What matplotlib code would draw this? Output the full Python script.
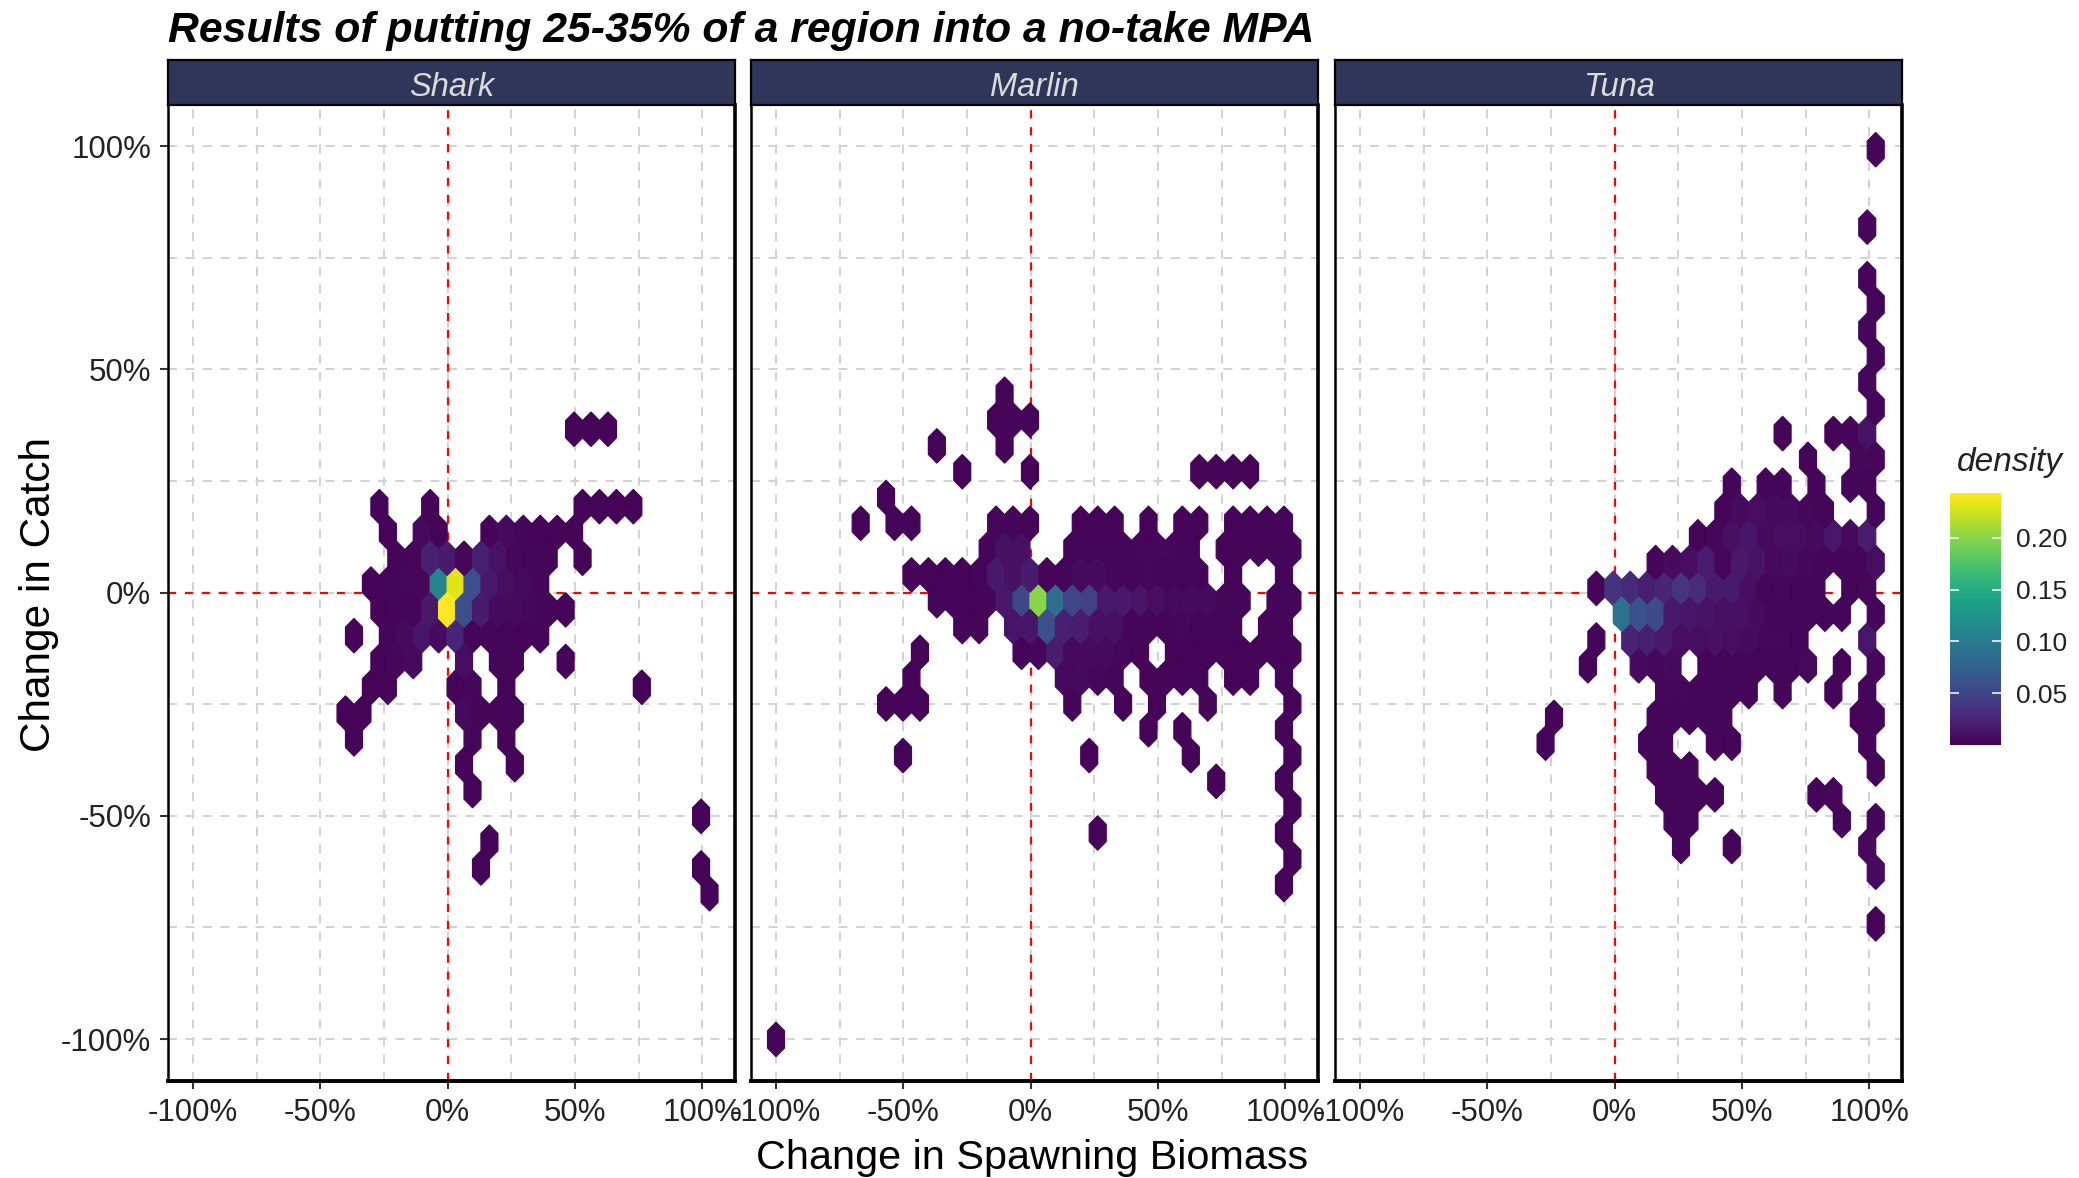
import matplotlib
matplotlib.use("Agg")
import matplotlib.pyplot as plt
import numpy as np

plt.rcParams['font.family'] = ['Liberation Sans', 'DejaVu Sans']

panel_names = ["Shark", "Marlin", "Tuna"]
tick_values = [-100, -50, 0, 50, 100]
tick_labels = ["-100%", "-50%", "0%", "50%", "100%"]
minor_values = [-75, -25, 25, 75]
legend_ticks = [0.05, 0.10, 0.15, 0.20]
legend_labels = ["0.05", "0.10", "0.15", "0.20"]
dens_min = 0.0003
dens_max = 0.243

# hexagon rows: row y, then x and density of each cell
shark_y = [36.6, 19.2, 13.5, 7.7, 1.9, -3.9, -9.7, -15.4, -21.2, -27.0, -32.8, -38.6, -44.3, -50.1, -55.9, -61.7, -67.5]
shark_x = [
    [49.7, 56.4, 63.0],
    [-26.8, -6.9, 53.0, 59.7, 66.3, 73.0],
    [-23.5, -10.2, -3.5, 16.5, 23.1, 29.8, 36.4, 43.1, 49.7],
    [-20.2, -13.5, -6.9, -0.2, 6.5, 13.1, 19.8, 26.4, 33.1, 39.7, 53.0],
    [-30.1, -23.5, -16.8, -10.2, -3.5, 3.2, 9.8, 16.5, 23.1, 29.8, 36.4],
    [-26.8, -20.2, -13.5, -6.9, -0.2, 6.5, 13.1, 19.8, 26.4, 33.1, 39.7, 46.4],
    [-36.8, -23.5, -16.8, -10.2, -3.5, 3.2, 9.8, 16.5, 23.1, 29.8, 36.4],
    [-26.8, -20.2, -13.5, 6.5, 19.8, 26.4, 46.4],
    [-30.1, -23.5, 3.2, 9.8, 23.1, 76.3],
    [-40.1, -33.5, 6.5, 13.1, 19.8, 26.4],
    [-36.8, 9.8, 23.1],
    [6.5, 26.4],
    [9.8],
    [99.6],
    [16.5],
    [13.1, 99.6],
    [102.9],
]
shark_d = [
    [.003, .003, .003],
    [.003, .003, .003, .003, .003, .003],
    [.003, .006, .004, .003, .007, .004, .003, .003, .003],
    [.004, .005, .022, .018, .005, .022, .012, .005, .004, .004, .003],
    [.003, .004, .005, .005, .110, .232, .058, .016, .008, .006, .004],
    [.003, .004, .004, .016, .243, .058, .018, .007, .006, .005, .004, .003],
    [.003, .004, .007, .014, .007, .026, .004, .004, .004, .003, .004],
    [.004, .005, .006, .008, .004, .004, .003],
    [.003, .003, .003, .005, .003, .003],
    [.003, .003, .007, .003, .003, .003],
    [.003, .005, .003],
    [.003, .003],
    [.003],
    [.003],
    [.003],
    [.003, .003],
    [.003],
]

marlin_y = [44.4, 38.6, 32.8, 27.1, 21.3, 15.5, 9.7, 4.0, -1.8, -7.6, -13.4, -19.2, -25.0, -30.7, -36.5, -42.3, -48.1, -53.9, -59.6, -65.4, -100.1]
marlin_x = [
    [-10.2],
    [-13.4, -6.8, -0.1],
    [-36.8, -10.2],
    [-26.7, -0.1, 66.4, 73.1, 79.7, 86.4],
    [-56.7],
    [-66.6, -53.3, -46.7, -13.4, -6.8, -0.1, 19.9, 26.5, 33.2, 46.5, 59.8, 66.4, 79.7, 86.4, 93.0, 99.7],
    [-16.9, -10.2, -3.6, 16.4, 23.1, 29.7, 36.4, 43.0, 49.7, 56.3, 63.0, 76.3, 82.9, 89.6, 96.2, 102.9],
    [-46.7, -40.0, -33.4, -26.7, -20.1, -13.4, -6.8, -0.1, 6.6, 13.2, 19.9, 26.5, 33.2, 39.8, 46.5, 53.1, 59.8, 66.4, 79.7, 99.7],
    [-36.8, -30.2, -23.5, -16.9, -10.2, -3.6, 3.1, 9.8, 16.4, 23.1, 29.7, 36.4, 43.0, 49.7, 56.3, 63.0, 69.6, 76.3, 82.9, 96.2, 102.9],
    [-26.7, -20.1, -6.8, -0.1, 6.6, 13.2, 19.9, 26.5, 33.2, 39.8, 46.5, 53.1, 59.8, 66.4, 73.1, 79.7, 93.0, 99.7],
    [-43.5, -3.6, 3.1, 9.8, 16.4, 23.1, 29.7, 36.4, 43.0, 56.3, 63.0, 69.6, 76.3, 82.9, 89.6, 96.2, 102.9],
    [-46.7, 13.2, 19.9, 26.5, 33.2, 46.5, 53.1, 59.8, 66.4, 79.7, 86.4, 99.7],
    [-56.7, -50.1, -43.5, 16.4, 36.4, 49.7, 69.6, 102.9],
    [46.5, 59.8, 99.7],
    [-50.1, 23.1, 63.0, 102.9],
    [73.1, 99.7],
    [102.9],
    [26.5, 99.7],
    [102.9],
    [99.7],
    [-99.9],
]
marlin_d = [
    [.003],
    [.003, .003, .003],
    [.003, .003],
    [.003, .003, .003, .003, .003, .003],
    [.003],
    [.003, .003, .003, .005, .004, .003, .003, .003, .003, .003, .003, .003, .003, .003, .003, .004],
    [.004, .011, .010, .004, .004, .004, .004, .005, .005, .005, .004, .003, .003, .003, .004, .004],
    [.003, .003, .003, .003, .004, .016, .011, .018, .004, .004, .007, .007, .004, .004, .005, .004, .004, .004, .003, .004],
    [.004, .003, .003, .004, .016, .052, .200, .085, .050, .046, .016, .016, .013, .009, .006, .007, .007, .004, .004, .004, .004],
    [.004, .004, .013, .014, .060, .022, .020, .010, .010, .004, .004, .004, .005, .004, .004, .004, .004, .004],
    [.003, .004, .005, .020, .006, .007, .006, .005, .004, .003, .003, .003, .003, .003, .003, .003, .003],
    [.003, .006, .007, .005, .004, .003, .003, .004, .004, .003, .003, .004],
    [.003, .003, .003, .004, .003, .003, .004, .003],
    [.003, .003, .004],
    [.004, .003, .003, .003],
    [.003, .004],
    [.003],
    [.003, .003],
    [.003],
    [.003],
    [.003],
]

tuna_y = [99.2, 81.9, 70.3, 64.5, 58.7, 52.9, 47.2, 41.4, 35.6, 29.8, 24.0, 18.3, 12.5, 6.7, 0.9, -4.9, -10.6, -16.4, -22.2, -28.0, -33.8, -39.5, -45.3, -51.1, -56.9, -62.7, -74.2]
tuna_x = [
    [102.7],
    [99.3],
    [99.3],
    [102.7],
    [99.3],
    [102.7],
    [99.3],
    [102.7],
    [66.0, 86.0, 92.6, 99.3],
    [76.1, 96.0, 102.7],
    [46.1, 59.4, 66.0, 79.3, 92.6, 99.3],
    [42.8, 49.5, 56.1, 62.8, 69.4, 76.1, 82.7, 102.7],
    [32.8, 39.4, 46.1, 52.7, 59.4, 66.0, 72.7, 79.3, 86.0, 92.6, 99.3],
    [16.2, 22.9, 29.5, 36.2, 42.8, 49.5, 56.1, 62.8, 69.4, 76.1, 82.7, 89.4, 96.0, 102.7],
    [-7.2, -0.5, 6.2, 12.8, 19.5, 26.1, 32.8, 39.4, 46.1, 52.7, 59.4, 66.0, 72.7, 79.3, 92.6, 99.3],
    [2.9, 9.6, 16.2, 22.9, 29.5, 36.2, 42.8, 49.5, 56.1, 62.8, 69.4, 76.1, 82.7, 89.4, 102.7],
    [-7.2, 6.2, 12.8, 19.5, 26.1, 32.8, 39.4, 46.1, 52.7, 59.4, 66.0, 72.7, 99.3],
    [-10.4, 9.6, 16.2, 22.9, 36.2, 42.8, 49.5, 56.1, 62.8, 69.4, 76.1, 89.4, 102.7],
    [19.5, 26.1, 32.8, 39.4, 46.1, 52.7, 66.0, 86.0, 99.3],
    [-23.7, 16.2, 22.9, 29.5, 36.2, 42.8, 96.0, 102.7],
    [-27.1, 12.8, 19.5, 39.4, 46.1, 99.3],
    [16.2, 22.9, 29.5, 102.7],
    [19.5, 26.1, 32.8, 39.4, 79.3, 86.0],
    [22.9, 29.5, 89.4, 102.7],
    [26.1, 46.1, 99.3],
    [102.7],
    [102.7],
]
tuna_d = [
    [.004],
    [.005],
    [.003],
    [.004],
    [.005],
    [.004],
    [.005],
    [.004],
    [.003, .003, .004, .012],
    [.004, .005, .005],
    [.004, .004, .004, .004, .004, .004],
    [.004, .007, .008, .007, .007, .005, .004, .004],
    [.004, .005, .010, .014, .007, .008, .008, .007, .015, .006, .020],
    [.004, .007, .009, .020, .005, .016, .012, .006, .007, .005, .004, .004, .004, .008],
    [.003, .036, .029, .021, .025, .038, .030, .017, .017, .009, .004, .005, .004, .004, .004, .005],
    [.090, .060, .055, .016, .014, .012, .010, .010, .007, .004, .004, .004, .004, .004, .004],
    [.004, .024, .022, .018, .008, .008, .010, .008, .007, .005, .005, .004, .015],
    [.004, .007, .005, .007, .004, .004, .004, .004, .004, .004, .006, .004, .005],
    [.005, .005, .004, .004, .004, .004, .004, .004, .004],
    [.004, .004, .004, .004, .004, .004, .003, .003],
    [.004, .004, .004, .005, .004, .004],
    [.004, .004, .004, .004],
    [.004, .004, .004, .004, .004, .005],
    [.004, .004, .005, .004],
    [.004, .004, .006],
    [.007],
    [.003],
]

panel_rows = [(shark_y, shark_x, shark_d), (marlin_y, marlin_x, marlin_d), (tuna_y, tuna_x, tuna_d)]

# hexagon lattice of each panel, geom_hexbin fits one per facet
hex_sx = 6.65
hex_sy = 11.56
lattice_x = [-3.5, 3.1, -0.5]
lattice_y = [1.9, -1.83, 0.93]

fig_w, fig_h = 2079, 1178
fig = plt.figure(figsize=(fig_w / 100, fig_h / 100), dpi=100)


def px_rect(x0, y0, x1, y1):
    return [x0 / fig_w, 1 - y1 / fig_h, (x1 - x0) / fig_w, (y1 - y0) / fig_h]


panel_left = [168, 751, 1335]
panel_width = 567
text_col = "#222222"
mesh = None

for i in range(3):
    ax = fig.add_axes(px_rect(panel_left[i], 105, panel_left[i] + panel_width, 1081))
    ys, xs, ds = panel_rows[i]
    x = np.concatenate(xs)
    y = np.concatenate([np.full(len(r), v) for r, v in zip(xs, ys)])
    d = np.concatenate(ds)

    ex0 = lattice_x[i] - 18 * hex_sx
    ey0 = lattice_y[i] - 11 * hex_sy
    mesh = ax.hexbin(x, y, C=d, gridsize=(36, 22),
                     extent=(ex0, ex0 + 36 * hex_sx, ey0, ey0 + 22 * hex_sy),
                     reduce_C_function=np.max, cmap="viridis",
                     vmin=dens_min, vmax=dens_max, linewidths=0.9, zorder=3)

    ax.axhline(0, color="red", lw=1.6, ls=(0, (3.6, 4)), zorder=2)
    ax.axvline(0, color="red", lw=1.6, ls=(0, (3.6, 4)), zorder=2)

    ax.set_xlim(-109.8, 112.9)
    ax.set_ylim(-109.4, 109.2)
    ax.set_xticks(tick_values, tick_labels)
    ax.set_yticks(tick_values, tick_labels)
    ax.set_xticks(minor_values, minor=True)
    ax.set_yticks(minor_values, minor=True)
    ax.grid(which="both", color="#d2d2d2", lw=1.4, ls=(0, (4.6, 4.4)), zorder=1)
    ax.set_axisbelow(True)
    ax.tick_params(which="minor", length=0)
    ax.tick_params(which="major", length=6, width=1.5, color="#333333",
                   labelsize=22.5, labelcolor=text_col, pad=6)
    if i > 0:
        ax.tick_params(axis="y", which="both", left=False, labelleft=False)
    ax.spines["left"].set_linewidth(1.8)
    ax.spines["right"].set_linewidth(2.6)
    ax.spines["bottom"].set_linewidth(2.8)
    ax.spines["top"].set_visible(False)

    strip = fig.add_axes(px_rect(panel_left[i], 60, panel_left[i] + panel_width, 105))
    strip.set_facecolor("#2f3659")
    strip.set_xticks([])
    strip.set_yticks([])
    for side in strip.spines:
        strip.spines[side].set_linewidth(1.6)
    strip.text(0.5, 0.38, panel_names[i], transform=strip.transAxes, ha="center", va="center",
               style="italic", fontsize=23.5, color="#dcdcdc")

fig.text(168 / fig_w, 1 - 31 / fig_h, "Results of putting 25-35% of a region into a no-take MPA",
         ha="left", va="center", fontsize=30.8, fontweight="bold", style="italic", color="black")
fig.text(1032 / fig_w, 1 - 1158 / fig_h, "Change in Spawning Biomass", ha="center", va="center",
         fontsize=29.8, color="black")
fig.text(39 / fig_w, 1 - 594 / fig_h, "Change in Catch", ha="center", va="center", rotation=90,
         fontsize=30.5, color="black")

# colour bar
cax = fig.add_axes(px_rect(1950, 493, 2001, 745))
cb = fig.colorbar(mesh, cax=cax)
cb.outline.set_visible(False)
cb.set_ticks(legend_ticks, labels=legend_labels)
cax.tick_params(axis="y", direction="in", length=6.5, width=1.1, color="white", left=True, right=True,
                labelsize=19, labelcolor=text_col, pad=11)
fig.text(2010 / fig_w, 1 - 463 / fig_h, "density", ha="center", va="center", style="italic",
         fontsize=24, color=text_col)

fig.savefig("out.png", dpi=100)
